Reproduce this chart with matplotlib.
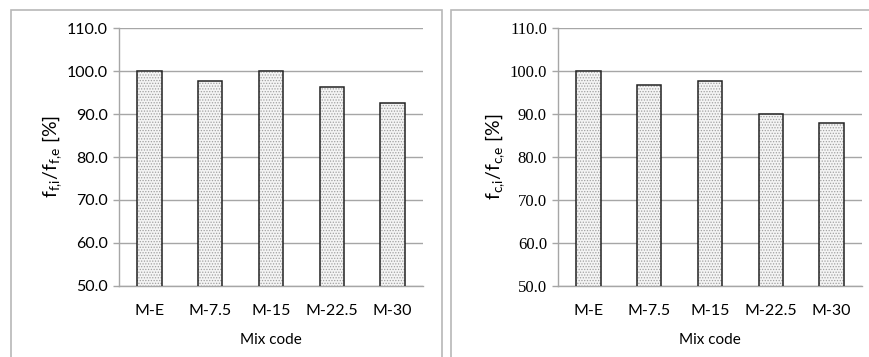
import matplotlib
matplotlib.use("Agg")
import matplotlib.pyplot as plt
from matplotlib.patches import Rectangle
import numpy as np

# data
mix_codes = ["M-E", "M-7.5", "M-15", "M-22.5", "M-30"]
flex_ratio = [100.0, 97.6, 100.0, 96.3, 92.7]
comp_ratio = [100.0, 96.7, 97.6, 90.0, 88.0]
y_ticks = [50, 60, 70, 80, 90, 100, 110]

grid_col = "#a6a6a6"
plt.rcParams["hatch.linewidth"] = 0.6
plt.rcParams["hatch.color"] = "#8f8f8f"
plt.rcParams["mathtext.fontset"] = "custom"
plt.rcParams["mathtext.rm"] = "Lato"


def draw_panel(fig, rect, values, ylabel, tick_font, tick_size):
    ax = fig.add_axes(rect)
    x = np.arange(len(mix_codes))
    # dotted fill, then black outline on top
    ax.bar(x, values, width=0.4, bottom=0, color="#f4f4f4", hatch="......",
           edgecolor="#a0a0a0", linewidth=0, zorder=2)
    ax.bar(x, values, width=0.4, bottom=0, color="none",
           edgecolor="#222222", linewidth=1.1, zorder=3)
    ax.set_xlim(-0.5, len(mix_codes) - 0.5)
    ax.set_ylim(50, 110)
    ax.set_yticks(y_ticks)
    ax.set_yticklabels([f"{v:.1f}" for v in y_ticks], family=tick_font,
                       fontsize=tick_size)
    ax.set_xticks(x)
    ax.set_xticklabels(mix_codes, family="Lato", fontsize=11.5)
    ax.tick_params(axis="x", length=0, pad=13)
    ax.tick_params(axis="y", length=4, color=grid_col, width=1, pad=4)
    ax.yaxis.grid(True, color=grid_col, linewidth=1)
    ax.set_axisbelow(True)
    for s in ["top", "right"]:
        ax.spines[s].set_visible(False)
    for s in ["left", "bottom"]:
        ax.spines[s].set_color(grid_col)
        ax.spines[s].set_linewidth(1)
    ax.set_xlabel("Mix code", family="Lato", fontsize=11, labelpad=11)
    ax.set_ylabel(ylabel, family="Lato", fontsize=14, labelpad=2)
    return ax


fig = plt.figure(figsize=(8.7, 3.57), dpi=100)

# chart area borders (spreadsheet style)
fig.patches.append(Rectangle((11 / 870, -0.1), (442 - 11) / 870, 1.1 - 10 / 357,
                             transform=fig.transFigure, fill=False,
                             edgecolor="#b8b8b8", linewidth=1.2))
fig.patches.append(Rectangle((451 / 870, -0.1), 0.6, 1.1 - 10 / 357,
                             transform=fig.transFigure, fill=False,
                             edgecolor="#b8b8b8", linewidth=1.2))

draw_panel(fig, [119 / 870, 1 - 285.7 / 357, 304 / 870, 257.4 / 357],
           flex_ratio, r"$\mathregular{f_{f{,}i}/f_{f{,}e}}$ [%]", "Lato", 11.5)
draw_panel(fig, [558 / 870, 1 - 285.7 / 357, 304 / 870, 257.4 / 357],
           comp_ratio, r"$\mathregular{f_{c{,}i}/f_{c{,}e}}$ [%]",
           "Liberation Serif", 12)

fig.savefig("out.png", dpi=100)
